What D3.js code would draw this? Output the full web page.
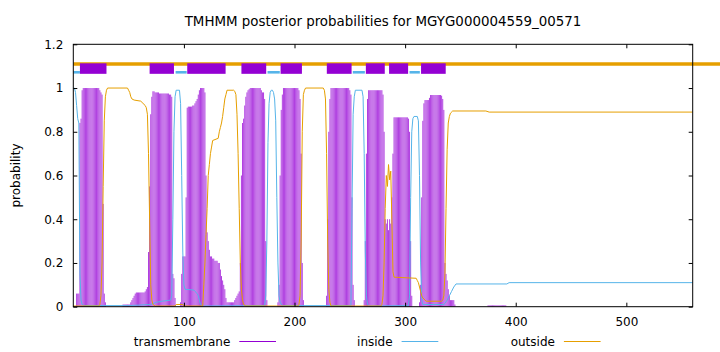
<!DOCTYPE html>
<html>
<head>
<meta charset="utf-8">
<script src="https://cdn.jsdelivr.net/npm/d3@7"></script>
<style>
body { margin: 0; background: #fff; }
text { font-family: "DejaVu Sans", sans-serif; font-size: 12px; fill: #000; }
</style>
</head>
<body>
<div id="content"></div>
<script>
const title = "TMHMM posterior probabilities for MGYG000004559_00571";
const seqLength = 560;
const xTicks = [100, 200, 300, 400, 500];
const yTicks = [0, 0.2, 0.4, 0.6, 0.8, 1, 1.2];
const legendNames = ["transmembrane", "inside", "outside"];

// transmembrane posterior, one value per residue starting at residue 1
const tmProb = [
  0,0,0.06,0.06,0.06,0.84,0.86,0.99,1,1,
  1,1,1,1,1,1,1,1,1,1,
  1,1,1,0.99,0.98,0.97,0.47,0.06,0.02,0,
  0,0,0,0,0,0,0,0,0,0,
  0,0,0,0,0.01,0.01,0.01,0.01,0.01,0.01,
  0.01,0.02,0.03,0.04,0.05,0.06,0.065,0.065,0.065,0.065,
  0.065,0.065,0.065,0.065,0.07,0.08,0.09,0.25,0.55,0.88,
  0.96,0.985,0.985,0.98,0.98,0.98,0.98,0.975,0.975,0.975,
  0.975,0.975,0.975,0.975,0.975,0.975,0.97,0.97,0.96,0.15,
  0.13,0.04,0,0,0,0,0.02,0.15,0.23,0.23,
  0.23,0.5,0.91,0.915,0.915,0.915,0.915,0.92,0.92,0.93,
  0.94,0.95,0.97,0.99,1,1,1,1,0.98,0.6,
  0.34,0.3,0.26,0.23,0.23,0.22,0.22,0.21,0.21,0.21,
  0.2,0.2,0.17,0.14,0.12,0.1,0.08,0.04,0.02,0.02,
  0.02,0.02,0.02,0.02,0.02,0.03,0.04,0.05,0.06,0.07,
  0.2,0.6,0.84,0.86,0.92,0.96,0.98,0.99,0.995,1,
  1,1,1,1,1,1,1,1,1,0.99,
  0.98,0.98,0.95,0.3,0.03,0,0,0,0,0,
  0,0,0,0,0.02,0.1,0.6,0.9,0.97,1,
  1,1,1,1,1,1,1,1,1,1,
  1,1,1,0.99,0.95,0.7,0.2,0.03,0,0,
  0,0,0,0,0,0,0,0,0,0,
  0,0,0,0,0,0,0,0,0.05,0.4,
  0.8,0.95,1,1,1,1,1,1,1,1,
  1,1,1,1,1,1,1,1,1,0.99,
  0.97,0.5,0.1,0.03,0,0,0,0,0,0,
  0,0,0.03,0.3,0.7,0.95,0.99,0.99,0.99,0.99,
  0.99,0.99,0.99,0.99,0.99,0.99,0.99,0.99,0.99,0.97,
  0.8,0.4,0.38,0.4,0.35,0.4,0.38,0.5,0.7,0.866,
  0.866,0.866,0.866,0.866,0.866,0.866,0.866,0.866,0.866,0.866,
  0.866,0.866,0.86,0.8,0.3,0.05,0,0,0,0,
  0,0,0.02,0.1,0.5,0.85,0.93,0.945,0.945,0.945,
  0.945,0.955,0.968,0.968,0.968,0.968,0.968,0.968,0.968,0.968,
  0.968,0.968,0.965,0.95,0.9,0.2,0.15,0.12,0.08,0.05,
  0.03,0.03,0.03,0.03,0.01,0,0,0,0,0,
  0,0,0,0,0,0,0,0,0,0,
  0,0,0,0,0,0,0,0,0,0,
  0,0,0,0,0.006,0.006,0.006,0.006,0.006,0.006,
  0.006,0.006,0.006,0.006,0.006,0.006,0.006,0.006,0.006,0.006,
  0.006
];

// inside / outside posterior as [residue, probability]
const insidePts = [
  [0,1],[1,1],[2,0.98],[3,0.92],[4,0.86],[5,0.84],[6,0.15],[7,0.03],[8,0.01],[10,0.005],
  [50,0.005],[70,0.01],[75,0.02],[80,0.025],[88,0.03],[89,0.05],[90,0.4],[91,0.8],[92,0.96],
  [93,0.99],[96,0.99],[97,0.93],[98,0.6],[99,0.25],[100,0.1],[101,0.08],[109,0.076],[110,0.07],
  [112,0.06],[113,0.05],[114,0.03],[115,0.01],[117,0.003],[173,0.005],[174,0.05],[175,0.3],
  [176,0.75],[177,0.93],[178,0.98],[179,0.99],[180,0.99],[181,0.98],[182,0.95],[183,0.85],
  [184,0.5],[185,0.2],[186,0.05],[187,0.02],[189,0.005],[251,0.005],[252,0.45],[253,0.88],
  [254,0.96],[255,0.99],[261,0.99],[262,0.96],[263,0.7],[264,0.25],[265,0.05],[266,0.01],
  [268,0.003],[303,0.005],[304,0.05],[305,0.5],[306,0.8],[307,0.86],[308,0.87],[311,0.87],
  [312,0.85],[313,0.6],[314,0.2],[315,0.03],[316,0.01],[335,0.01],[336,0.015],[338,0.03],
  [340,0.05],[342,0.07],[344,0.09],[346,0.104],[392,0.104],[394,0.11],[560,0.11]
];
const outsidePts = [
  [0,0.003],[23,0.003],[24,0.01],[25,0.05],[26,0.2],[27,0.55],[28,0.85],[29,0.96],[30,0.99],
  [31,1],[49,1],[50,0.99],[51,0.98],[52,0.96],[53,0.95],[55,0.945],[61,0.94],[63,0.93],
  [65,0.92],[66,0.91],[67,0.88],[68,0.7],[69,0.4],[70,0.1],[71,0.03],[72,0.01],[74,0.003],
  [92,0.003],[93,0.01],[99,0.01],[100,0.003],[117,0.003],[118,0.1],[119,0.2],[120,0.33],
  [121,0.45],[122,0.6],[123,0.65],[124,0.7],[125,0.73],[126,0.76],[131,0.77],[132,0.8],
  [133,0.82],[134,0.84],[135,0.87],[136,0.91],[137,0.95],[138,0.97],[139,0.99],[145,0.99],
  [146,0.985],[147,0.97],[148,0.88],[149,0.7],[150,0.45],[151,0.2],[152,0.08],[153,0.03],
  [154,0.01],[156,0.003],[203,0.003],[204,0.01],[205,0.05],[206,0.3],[207,0.8],[208,0.97],
  [209,0.99],[210,1],[226,1],[227,0.99],[228,0.95],[229,0.7],[230,0.3],[231,0.08],[232,0.02],
  [233,0.003],[278,0.003],[279,0.01],[280,0.05],[281,0.2],[282,0.45],[283,0.6],[284,0.55],
  [285,0.65],[286,0.58],[287,0.62],[288,0.4],[289,0.16],[290,0.135],[310,0.13],[311,0.12],
  [312,0.11],[313,0.09],[314,0.07],[315,0.05],[316,0.04],[317,0.035],[318,0.03],[319,0.025],
  [333,0.025],[334,0.03],[335,0.05],[336,0.15],[337,0.45],[338,0.72],[339,0.84],[340,0.87],
  [341,0.885],[343,0.895],[373,0.895],[376,0.89],[560,0.89]
];

// predicted topology (residue ranges)
const tmRegions = [[6,30],[69,91],[103,137.7],[152,174.4],[187.4,206.7],[229.2,251.6],[264.5,281.6],[285.5,302.7],[314.4,336.7]];
const insideRegions = [[0,6],[92.5,102.5],[175.6,186.7],[252.7,263.6],[304,313.3]];

const purple = "#9400d3", blue = "#56b4e9", orange = "#e69f00";
const impulseColor = "#b040e0";

//////////////////// drawing-area
const W = 720, H = 352;
const margin = { left: 73.3, right: 27.3, top: 44.3, bottom: 45.3 };
const iW = W - margin.left - margin.right;
const iH = H - margin.top - margin.bottom;

const x = d3.scaleLinear().domain([0, seqLength]).range([0, iW]);
const y = d3.scaleLinear().domain([0, 1.2]).range([iH, 0]);

const svg = d3.select("#content").append("svg")
  .attr("width", W).attr("height", H);

svg.append("text")
  .attr("x", margin.left + iW / 2).attr("y", 26)
  .attr("text-anchor", "middle")
  .style("font-size", "13.4px")
  .text(title);

const g = svg.append("g")
  .attr("transform", "translate(" + margin.left + "," + margin.top + ")");

// impulses for transmembrane probability
g.append("g").selectAll("line").data(tmProb.map((v, i) => [i + 1, v]).filter(d => d[1] > 0))
  .enter().append("line")
    .attr("x1", d => x(d[0])).attr("x2", d => x(d[0]))
    .attr("y1", y(0)).attr("y2", d => y(d[1]))
    .attr("stroke", impulseColor)
    .attr("stroke-width", 1);

const line = d3.line().x(d => x(d[0])).y(d => y(d[1]));
g.append("path").datum(insidePts).attr("d", line)
  .attr("fill", "none").attr("stroke", blue).attr("stroke-width", 1);
g.append("path").datum(outsidePts).attr("d", line)
  .attr("fill", "none").attr("stroke", orange).attr("stroke-width", 1);

// topology bar above the curves
g.append("line")
  .attr("x1", x(0)).attr("x2", W - margin.left)
  .attr("y1", y(1.11)).attr("y2", y(1.11))
  .attr("stroke", orange).attr("stroke-width", 3.7);
g.selectAll(".inreg").data(insideRegions).enter().append("line")
  .attr("class", "inreg")
  .attr("x1", d => x(d[0])).attr("x2", d => x(d[1]))
  .attr("y1", y(1.072)).attr("y2", y(1.072))
  .attr("stroke", blue).attr("stroke-width", 2.6);
g.selectAll(".tmreg").data(tmRegions).enter().append("rect")
  .attr("class", "tmreg")
  .attr("x", d => x(d[0])).attr("width", d => x(d[1]) - x(d[0]))
  .attr("y", y(1.113)).attr("height", y(1.065) - y(1.113))
  .attr("fill", purple);

// axes
const styleAxis = a => {
  a.select(".domain").remove();
  a.selectAll("text").attr("font-size", null).attr("font-family", null);
  a.attr("font-size", null).attr("font-family", null);
  a.selectAll("line").attr("stroke", "#000");
};
g.append("g").call(d3.axisLeft(y).tickValues(yTicks).tickSize(-4).tickPadding(10).tickFormat(d => String(d))).call(styleAxis);
g.append("g").attr("transform", "translate(" + iW + ",0)")
  .call(d3.axisRight(y).tickValues(yTicks).tickSize(-4).tickFormat("")).call(styleAxis);
g.append("g").attr("transform", "translate(0," + iH + ")")
  .call(d3.axisBottom(x).tickValues(xTicks).tickSize(-4).tickPadding(11)).call(styleAxis);
g.append("g")
  .call(d3.axisTop(x).tickValues(xTicks).tickSize(-4).tickFormat("")).call(styleAxis);

g.append("rect").attr("width", iW).attr("height", iH)
  .attr("fill", "none").attr("stroke", "#000").attr("stroke-width", 1);

svg.append("text")
  .attr("transform", "translate(20," + (margin.top + iH / 2) + ")rotate(-90)")
  .attr("text-anchor", "middle")
  .text("probability");

// legend below the plot
const legendColors = [purple, blue, orange];
const legend = svg.append("g");
legendNames.forEach((name, i) => {
  const sx = 239.3 + i * 162.3;
  legend.append("text").attr("x", sx - 9).attr("y", 346)
    .attr("text-anchor", "end").text(name);
  legend.append("line").attr("x1", sx).attr("x2", sx + 36.7)
    .attr("y1", 341.5).attr("y2", 341.5)
    .attr("stroke", legendColors[i]).attr("stroke-width", 1);
});
</script>
</body>
</html>
